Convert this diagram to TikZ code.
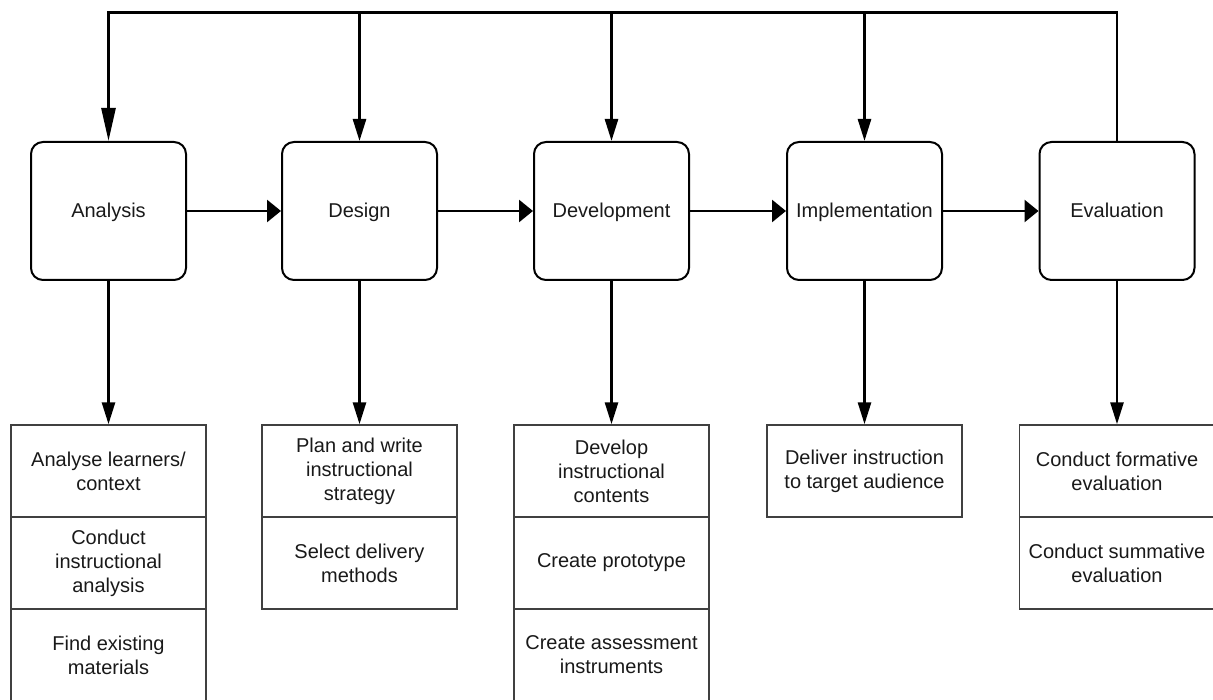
\documentclass[tikz,border=0pt]{standalone}
\usepackage{fontspec}
\setmainfont{Liberation Sans}
\usetikzlibrary{arrows.meta}
\definecolor{ink}{gray}{0.1}
\definecolor{rim}{gray}{0.25}
\tikzset{
  phase/.style={draw=black, line width=2pt, rounded corners=12pt, minimum width=155pt, minimum height=138pt, inner sep=0pt, text height=16pt, text depth=2pt, text=ink, font=\fontsize{20}{24}\selectfont},
  task/.style={draw=rim, line width=1.4pt, minimum width=195pt, minimum height=92pt, inner sep=0pt, align=center, text=ink, font=\fontsize{20}{24}\selectfont},
  link/.style={line width=2.7pt, black},
  vtip/.style={link, -{Triangle[length=22pt,width=13pt]}},
  htip/.style={link, -{Triangle[length=14pt,width=22pt]}},
}
\begin{document}
\begin{tikzpicture}[x=1pt,y=-1pt]
\useasboundingbox (0,0) rectangle (1213,700);
% phases
\node[phase] (ana) at (108.5,211) {Analysis};
\node[phase] (des) at (359.5,211) {Design};
\node[phase] (dev) at (611.5,211) {Development};
\node[phase] (imp) at (864.5,211) {Implementation};
\node[phase] (eva) at (1117,211) {Evaluation};
% tasks
\node[task] (a1) at (108.5,471) {Analyse learners/\\context};
\node[task] (a2) at (108.5,563) {Conduct\\instructional\\analysis};
\node[task] (a3) at (108.5,655) {Find existing\\materials};
\node[task] (d1) at (359.5,471) {Plan and write\\instructional\\strategy};
\node[task] (d2) at (359.5,563) {Select delivery\\methods};
\node[task] (v1) at (611.5,471) {Develop\\instructional\\contents};
\node[task] (v2) at (611.5,563) {Create prototype};
\node[task] (v3) at (611.5,655) {Create assessment\\instruments};
\node[task] (i1) at (864.5,471) {Deliver instruction\\to target audience};
\node[task] (e1) at (1117,471) {Conduct formative\\evaluation};
\node[task] (e2) at (1117,563) {Conduct summative\\evaluation};
% top feedback line
\coordinate (tE) at (1117,12.5);
\coordinate (tA) at (108.5,12.5);
\coordinate (tD) at (359.5,12.5);
\coordinate (tV) at (611.5,12.5);
\coordinate (tI) at (864.5,12.5);
\draw[link, -{Triangle[length=33pt,width=14pt]}] (eva.north) -- (tE) -- (tA) -- (ana.north);
\draw[vtip] (tD) -- (des.north);
\draw[vtip] (tV) -- (dev.north);
\draw[vtip] (tI) -- (imp.north);
% horizontal flow
\draw[htip] (ana.east) -- (des.west);
\draw[htip] (des.east) -- (dev.west);
\draw[htip] (dev.east) -- (imp.west);
\draw[htip] (imp.east) -- (eva.west);
% down to tasks
\draw[vtip] (ana.south) -- (a1.north);
\draw[vtip] (des.south) -- (d1.north);
\draw[vtip] (dev.south) -- (v1.north);
\draw[vtip] (imp.south) -- (i1.north);
\draw[vtip] (eva.south) -- (e1.north);
\end{tikzpicture}
\end{document}
